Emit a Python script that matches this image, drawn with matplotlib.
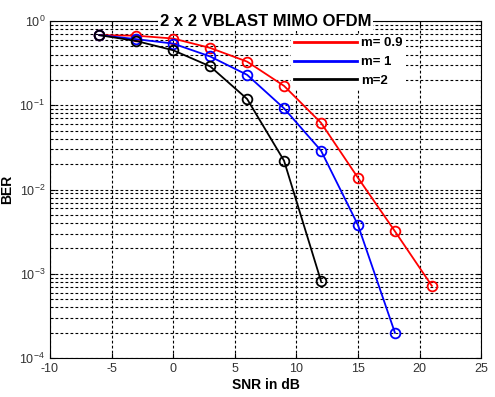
import matplotlib
matplotlib.use("Agg")
import matplotlib.pyplot as plt
from matplotlib.ticker import LogLocator, NullFormatter

plt.rcParams['font.family'] = ['Liberation Sans', 'DejaVu Sans']
plt.rcParams['axes.unicode_minus'] = False

snr = [-6, -3, 0, 3, 6, 9, 12, 15, 18, 21]
ber_m09 = [0.68, 0.67, 0.62, 0.48, 0.33, 0.17, 0.062, 0.0138, 0.0032, 0.00072]
ber_m1 = [0.68, 0.61, 0.54, 0.38, 0.23, 0.092, 0.029, 0.0038, 0.0002]
ber_m2 = [0.68, 0.58, 0.45, 0.29, 0.119, 0.022, 0.00082]
labels = ['m= 0.9', 'm= 1', 'm=2']
colors = ['#ff0000', '#0000ff', '#000000']
title = '2 x 2 VBLAST MIMO OFDM'

fig = plt.figure(figsize=(4.95, 3.97), dpi=100)
ax = fig.add_axes([0.101, 0.098, 0.871, 0.849])

series = [ber_m09, ber_m1, ber_m2]
for ys, lab, c in zip(series, labels, colors):
    ax.plot(snr[:len(ys)], ys, color=c, lw=1.3, marker='o', ms=7,
            mfc='none', mec=c, mew=1.3, label=lab)

ax.set_yscale('log')
ax.set_xlim(-10, 25)
ax.set_ylim(1e-4, 1)
ax.set_xticks(range(-10, 26, 5))
ax.yaxis.set_major_locator(LogLocator(base=10, numticks=10))
ax.yaxis.set_minor_locator(LogLocator(base=10, subs=range(2, 10), numticks=10))
ax.yaxis.set_minor_formatter(NullFormatter())
ax.grid(True, which='major', ls=(0, (2.5, 2)), color='black', lw=0.8)
ax.grid(True, which='minor', axis='y', ls=(0, (2.5, 2)), color='black', lw=0.8)
ax.tick_params(direction='in', which='both', top=True, right=True, labelsize=9, colors='black')
for lab in ax.get_xticklabels() + ax.get_yticklabels():
    lab.set_color('#333333')

ax.set_xlabel('SNR in dB', fontsize=10, fontweight='bold', labelpad=2)
ax.set_ylabel('BER', fontsize=10, fontweight='bold', labelpad=4)

ax.text(0.5, 1.0, title, transform=ax.transAxes,
        ha='center', va='center', fontsize=12, fontweight='bold', zorder=5,
        bbox=dict(facecolor='white', edgecolor='none', pad=1.5))

leg = ax.legend(loc='upper left', bbox_to_anchor=(0.56, 0.96), frameon=True,
                fancybox=False, edgecolor='none', facecolor='white', framealpha=1,
                handlelength=4.8, handletextpad=0.3, borderpad=0.2,
                labelspacing=0.5, prop={'weight': 'bold', 'size': 9.5},
                borderaxespad=0)
for h in leg.get_lines():
    h.set_marker('')
    h.set_linewidth(2)

fig.savefig('out.png', dpi=100)
